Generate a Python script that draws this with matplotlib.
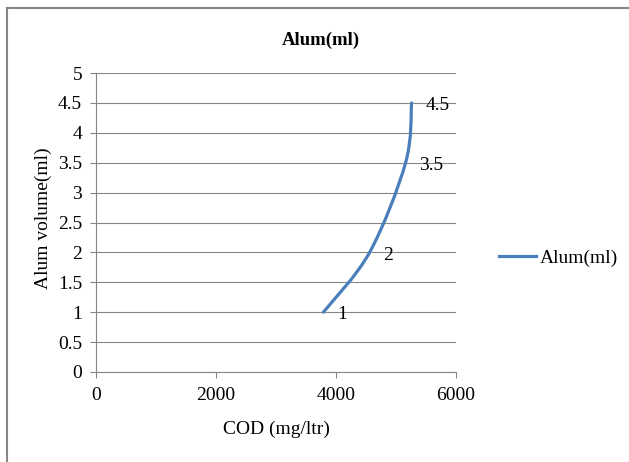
import matplotlib.pyplot as plt
from matplotlib.path import Path
from matplotlib.patches import PathPatch, Rectangle
from matplotlib.lines import Line2D

cod = [3790, 4560, 5160, 5260]
alum = [1, 2, 3.5, 4.5]
labels = ["1", "2", "3.5", "4.5"]
xticks = [0, 2000, 4000, 6000]
yticks = [0, 0.5, 1, 1.5, 2, 2.5, 3, 3.5, 4, 4.5, 5]

plt.rcParams["font.family"] = ["Liberation Serif", "DejaVu Serif"]
blue = "#4A7EBB"
grey = "#868686"
fs = 14


def smooth_path(xs, ys):
    # Excel-like smoothed line: Catmull-Rom as cubic Bezier segments
    pts = list(zip(xs, ys))
    n = len(pts)
    verts = [pts[0]]
    codes = [Path.MOVETO]
    for i in range(n - 1):
        p0 = pts[i - 1] if i > 0 else pts[i]
        p1 = pts[i]
        p2 = pts[i + 1]
        p3 = pts[i + 2] if i + 2 < n else pts[i + 1]
        c1 = (p1[0] + (p2[0] - p0[0]) / 6, p1[1] + (p2[1] - p0[1]) / 6)
        c2 = (p2[0] - (p3[0] - p1[0]) / 6, p2[1] - (p3[1] - p1[1]) / 6)
        verts += [c1, c2, p2]
        codes += [Path.CURVE4] * 3
    return Path(verts, codes)


fig = plt.figure(figsize=(6.29, 4.62), dpi=100)
ax = fig.add_axes([96 / 629, 1 - 372 / 462, 360 / 629, 299 / 462])

ax.add_patch(PathPatch(smooth_path(cod, alum), facecolor="none", edgecolor=blue,
                       lw=2.3, capstyle="round", joinstyle="round"))
for x, y, t in zip(cod, alum, labels):
    ax.annotate(t, (x, y), xytext=(10, -2), textcoords="offset points",
                ha="left", va="center", fontsize=fs)

ax.set_xlim(0, 6000)
ax.set_ylim(0, 5)
ax.set_xticks(xticks)
ax.set_yticks(yticks)
ax.set_yticklabels([f"{v:g}" for v in yticks])
ax.grid(axis="y", color=grey, lw=0.8)
ax.set_axisbelow(True)
for s in ["top", "right"]:
    ax.spines[s].set_visible(False)
for s in ["left", "bottom"]:
    ax.spines[s].set_color(grey)
    ax.spines[s].set_linewidth(0.8)
ax.tick_params(colors=grey, labelcolor="black", labelsize=fs, length=4, width=0.8)
ax.tick_params(axis="y", pad=6)
ax.tick_params(axis="x", pad=7)

fig.text(276 / 629, 1 - 429 / 462, "COD (mg/ltr)", ha="center", va="center", fontsize=fs)
fig.text(43 / 629, 1 - 218 / 462, "Alum volume(ml)", ha="center", va="center",
         rotation=90, fontsize=fs)
fig.text(321 / 629, 1 - 40 / 462, "Alum(ml)", ha="center", va="center",
         fontsize=13.5, fontweight="bold")

handle = Line2D([], [], color=blue, lw=2.3)
fig.legend([handle], ["Alum(ml)"], loc="center left", bbox_to_anchor=(482 / 629, 1 - 258 / 462),
           frameon=False, fontsize=fs, handlelength=1.9, handletextpad=0.15)

fig.add_artist(Rectangle((7 / 629, -0.1), 1.2, 1 - 8 / 462 + 0.1, transform=fig.transFigure,
                         fill=False, edgecolor=grey, lw=1.5))

fig.savefig("out.png", dpi=100)
